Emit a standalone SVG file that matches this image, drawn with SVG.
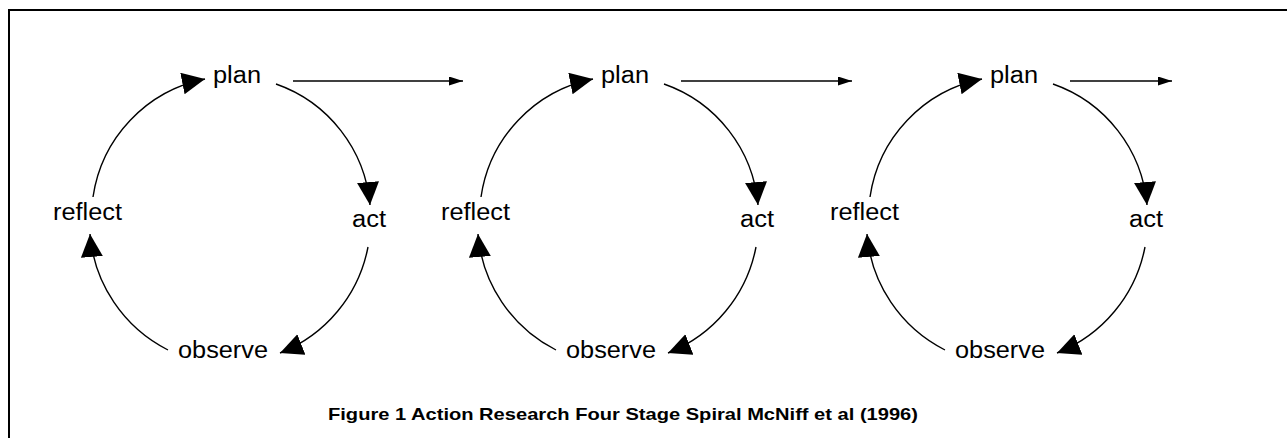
<svg xmlns="http://www.w3.org/2000/svg" width="1287" height="438" viewBox="0 0 1287 438">
  <style>
    .lbl { font-family: "Liberation Sans", Arial, sans-serif; font-size: 23px; fill: #000; }
    .cap { font-family: "Liberation Sans", Arial, sans-serif; font-size: 16.5px; font-weight: bold; fill: #000; }
    .arc { fill: none; stroke: #000; stroke-width: 1.4; marker-end: url(#big); }
    .lin { fill: none; stroke: #000; stroke-width: 1.5; marker-end: url(#small); }
  </style>
  <defs>
    <marker id="big" markerUnits="userSpaceOnUse" markerWidth="25" markerHeight="25" refX="23" refY="11" orient="auto" viewBox="0 0 25 25">
      <path d="M0,0 L23,11 L0,22 Z" fill="#000"/>
    </marker>
    <marker id="small" markerUnits="userSpaceOnUse" markerWidth="15" markerHeight="10" refX="14" refY="4.5" orient="auto" viewBox="0 0 15 10">
      <path d="M0,0 L14,4.5 L0,9 Z" fill="#000"/>
    </marker>
  </defs>
  <rect x="0" y="0" width="1287" height="438" fill="#fff"/>
  <path d="M9,440 L9,10 L1290,10" fill="none" stroke="#000" stroke-width="2"/>

  <g id="cycle1">
    <g id="c1-plan"><text class="lbl" x="213" y="83" textLength="48" lengthAdjust="spacingAndGlyphs">plan</text></g>
    <g id="c1-act"><text class="lbl" x="352" y="227" textLength="34" lengthAdjust="spacingAndGlyphs">act</text></g>
    <g id="c1-observe"><text class="lbl" x="178" y="358" textLength="90" lengthAdjust="spacingAndGlyphs">observe</text></g>
    <g id="c1-reflect"><text class="lbl" x="53" y="220" textLength="69" lengthAdjust="spacingAndGlyphs">reflect</text></g>
  </g>
  <g id="cycle2" transform="translate(388,0)">
    <g id="c2-plan"><text class="lbl" x="213" y="83" textLength="48" lengthAdjust="spacingAndGlyphs">plan</text></g>
    <g id="c2-act"><text class="lbl" x="352" y="227" textLength="34" lengthAdjust="spacingAndGlyphs">act</text></g>
    <g id="c2-observe"><text class="lbl" x="178" y="358" textLength="90" lengthAdjust="spacingAndGlyphs">observe</text></g>
    <g id="c2-reflect"><text class="lbl" x="53" y="220" textLength="69" lengthAdjust="spacingAndGlyphs">reflect</text></g>
  </g>
  <g id="cycle3" transform="translate(777,0)">
    <g id="c3-plan"><text class="lbl" x="213" y="83" textLength="48" lengthAdjust="spacingAndGlyphs">plan</text></g>
    <g id="c3-act"><text class="lbl" x="352" y="227" textLength="34" lengthAdjust="spacingAndGlyphs">act</text></g>
    <g id="c3-observe"><text class="lbl" x="178" y="358" textLength="90" lengthAdjust="spacingAndGlyphs">observe</text></g>
    <g id="c3-reflect"><text class="lbl" x="53" y="220" textLength="69" lengthAdjust="spacingAndGlyphs">reflect</text></g>
  </g>

  <g id="connectors">
    <g>
      <path class="arc" d="M93,197 A141,141 0 0 1 205,79"/>
      <path class="arc" d="M276,84 A141,141 0 0 1 370,205"/>
      <path class="arc" d="M368,247 A143,143 0 0 1 280,353"/>
      <path class="arc" d="M168,350 A143,143 0 0 1 90,234"/>
      <path class="lin" d="M293,81 L463,81"/>
    </g>
    <g transform="translate(388,0)">
      <path class="arc" d="M93,197 A141,141 0 0 1 205,79"/>
      <path class="arc" d="M276,84 A141,141 0 0 1 370,205"/>
      <path class="arc" d="M368,247 A143,143 0 0 1 280,353"/>
      <path class="arc" d="M168,350 A143,143 0 0 1 90,234"/>
      <path class="lin" d="M293,81 L464,81"/>
    </g>
    <g transform="translate(777,0)">
      <path class="arc" d="M93,197 A141,141 0 0 1 205,79"/>
      <path class="arc" d="M276,84 A141,141 0 0 1 370,205"/>
      <path class="arc" d="M368,247 A143,143 0 0 1 280,353"/>
      <path class="arc" d="M168,350 A143,143 0 0 1 90,234"/>
      <path class="lin" d="M293,81 L395,81"/>
    </g>
  </g>

  <g id="caption"><text class="cap" x="328" y="420" textLength="590" lengthAdjust="spacingAndGlyphs">Figure 1 Action Research Four Stage Spiral McNiff et al (1996)</text></g>
</svg>
